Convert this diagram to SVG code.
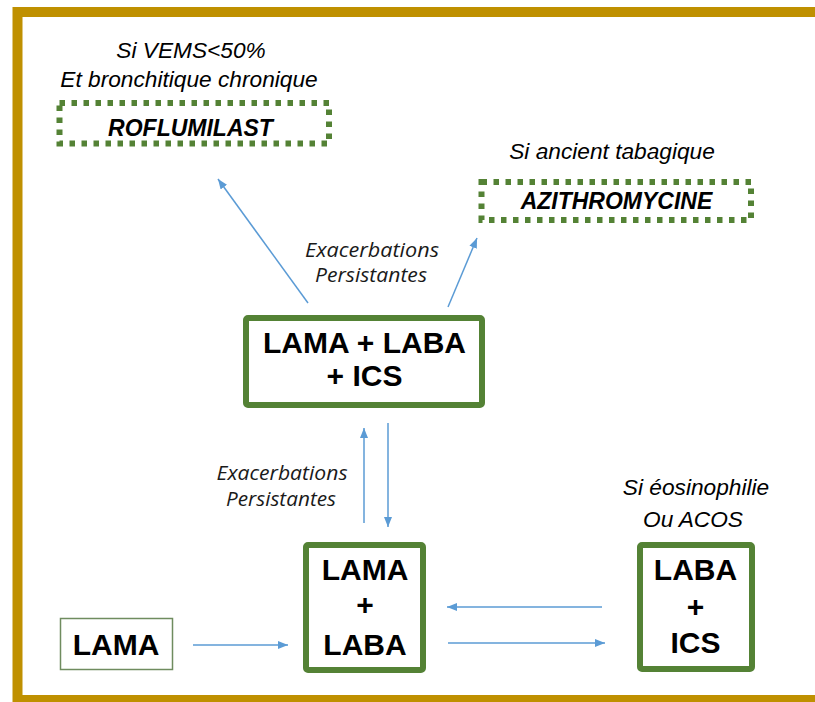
<svg xmlns="http://www.w3.org/2000/svg" width="815" height="702" viewBox="0 0 815 702">
<defs>
<style>
.frame{fill:#ffffff;stroke:#bf9000;stroke-width:10}
.solid{fill:#ffffff;stroke:#548235;stroke-width:6}
.thin{fill:#ffffff;stroke:#6f8c5f;stroke-width:1.5}
.dotted{fill:#ffffff;stroke:#548235;stroke-width:6;stroke-dasharray:5.5 6.5}
.b{font-family:"Liberation Sans",Arial,sans-serif;font-weight:bold;font-size:30px;fill:#000;text-anchor:middle}
.bi{font-family:"Liberation Sans",Arial,sans-serif;font-weight:bold;font-style:italic;font-size:23px;fill:#000;text-anchor:middle}
.i{font-family:"Liberation Sans",Arial,sans-serif;font-style:italic;font-size:22.7px;fill:#000;text-anchor:middle}
.c{font-family:"Open Sans",sans-serif;font-style:italic;font-size:19.5px;fill:#1a1a1a;text-anchor:middle}
.arr{stroke:#5b9bd5;stroke-width:1.5;fill:none;marker-end:url(#ah)}
</style>
<marker id="ah" markerUnits="userSpaceOnUse" markerWidth="10" markerHeight="8" refX="10" refY="4" orient="auto">
<path d="M0,0 L10,4 L0,8 z" fill="#5b9bd5"/>
</marker>
</defs>
<rect width="815" height="702" fill="#ffffff"/>
<rect class="frame" x="17.5" y="12" width="820" height="688"/>

<g id="connectors">
<line class="arr" x1="308" y1="303" x2="218" y2="179"/>
<line class="arr" x1="448" y1="307" x2="477" y2="238"/>
<line class="arr" x1="364" y1="523" x2="364" y2="428"/>
<line class="arr" x1="388" y1="423" x2="388" y2="527"/>
<line class="arr" x1="602" y1="607" x2="447" y2="607"/>
<line class="arr" x1="448" y1="643" x2="605" y2="643"/>
<line class="arr" x1="193" y1="645" x2="288" y2="645"/>
</g>

<g id="label-exac-top">
<text class="c" x="372" y="257" textLength="134" lengthAdjust="spacingAndGlyphs">Exacerbations</text>
<text class="c" x="371" y="282" textLength="112" lengthAdjust="spacingAndGlyphs">Persistantes</text>
</g>
<g id="label-exac-bottom">
<text class="c" x="282" y="480" textLength="131" lengthAdjust="spacingAndGlyphs">Exacerbations</text>
<text class="c" x="281" y="506" textLength="110" lengthAdjust="spacingAndGlyphs">Persistantes</text>
</g>

<g id="roflumilast">
<text class="i" x="191" y="58">Si VEMS&lt;50%</text>
<text class="i" x="189" y="87">Et bronchitique chronique</text>
<rect class="dotted" x="59.5" y="103" width="269.5" height="40.5"/>
<text class="bi" x="190.5" y="136">ROFLUMILAST</text>
</g>

<g id="azithromycine">
<text class="i" x="612" y="159">Si ancient tabagique</text>
<rect class="dotted" x="481.5" y="182" width="269.5" height="38"/>
<text class="bi" x="616.5" y="209">AZITHROMYCINE</text>
</g>

<g id="lama-laba-ics">
<rect class="solid" x="246" y="318" width="236" height="87" rx="2"/>
<text class="b" x="364.5" y="353">LAMA + LABA</text>
<text class="b" x="364.5" y="386">+ ICS</text>
</g>

<g id="lama-laba">
<rect class="solid" x="306" y="545" width="117" height="125" rx="2"/>
<text class="b" x="365" y="580">LAMA</text>
<text class="b" x="365" y="615">+</text>
<text class="b" x="365" y="655">LABA</text>
</g>

<g id="laba-ics">
<text class="i" x="696" y="495">Si éosinophilie</text>
<text class="i" x="693" y="527">Ou ACOS</text>
<rect class="solid" x="640" y="545" width="112" height="124" rx="2"/>
<text class="b" x="695.5" y="580">LABA</text>
<text class="b" x="695.5" y="617">+</text>
<text class="b" x="695.5" y="653">ICS</text>
</g>

<g id="lama">
<rect class="thin" x="60.5" y="618.5" width="112" height="51"/>
<text class="b" x="116" y="655">LAMA</text>
</g>
</svg>
